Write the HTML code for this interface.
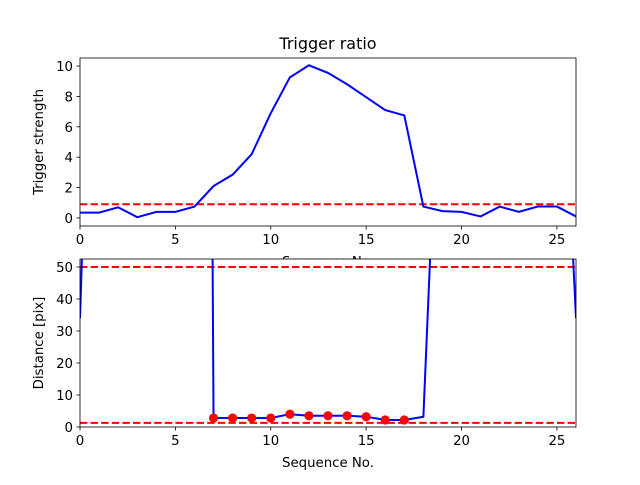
<!DOCTYPE html>
<html><head><meta charset="utf-8"><style>
body{margin:0;background:#fff;}
text{font-family:"DejaVu Sans","Liberation Sans",sans-serif;fill:#000;}
</style></head><body>
<svg id="c" width="640" height="480" xmlns="http://www.w3.org/2000/svg">
<defs>
<clipPath id="cp1"><rect x="80" y="58" width="496" height="168"/></clipPath>
<clipPath id="cp2"><rect x="80" y="259" width="496" height="168"/></clipPath>
</defs>
<rect width="640" height="480" fill="#fff"/>
<text x="328" y="49" font-size="16" text-anchor="middle">Trigger ratio</text>
<g id="top"></g>
<g id="bot"></g>
</svg>
<script>
const seq = [0,1,2,3,4,5,6,7,8,9,10,11,12,13,14,15,16,17,18,19,20,21,22,23,24,25,26];
const strength = [0.35,0.35,0.7,0.05,0.4,0.4,0.75,2.1,2.85,4.2,6.9,9.25,10.05,9.55,8.8,7.95,7.1,6.75,0.75,0.45,0.4,0.1,0.75,0.4,0.75,0.75,0.1];
const distance = [34,220,1000,1000,1000,1000,1000,2.8,2.8,2.8,2.8,4.0,3.5,3.5,3.5,3.2,2.2,2.2,3.2,144,1000,1000,1000,1000,1000,157,34];
const ratioThreshold = 0.9;
const distThresholds = [50,1.3];
const xTicks = [0,5,10,15,20,25];
const yTicksTop = [0,2,4,6,8,10];
const yTicksBot = [0,10,20,30,40,50];
const NS="http://www.w3.org/2000/svg";
const FS=13.3;
function mk(p,t,a){const e=document.createElementNS(NS,t);for(const k in a)e.setAttribute(k,a[k]);p.appendChild(e);return e;}
function panel(g,top,ymin,ymax,ys,yt,ylab){
  const L=80,R=576,B=top+168;
  const X=v=>L+(v-0)/26*(R-L);
  const Y=v=>B-(v-ymin)/(ymax-ymin)*168;
  return {X,Y,L,R,B,top,draw(){
    for(const t of xTicks){const l=mk(g,'line',{x1:X(t),x2:X(t),y1:B,y2:B+3.5,stroke:'#000','stroke-width':0.8});
      
      const tx=mk(g,'text',{x:X(t),y:B+18,'font-size':FS,'text-anchor':'middle'});tx.textContent=t;
      }
    for(const t of yt){const l=mk(g,'line',{x1:L-3.5,x2:L,y1:Y(t),y2:Y(t),stroke:'#000','stroke-width':0.8});
      
      const tx=mk(g,'text',{x:L-7,y:Y(t)+5,'font-size':FS,'text-anchor':'end'});tx.textContent=t;
      }
    const yl=mk(g,'text',{x:0,y:0,'font-size':FS,'text-anchor':'middle',transform:`translate(${ys},${(top+B)/2}) rotate(-90)`});yl.textContent=ylab;
    
    const xl=mk(g,'text',{x:(L+R)/2,y:B+40,'font-size':FS,'text-anchor':'middle'});xl.textContent='Sequence No.';
    
  },frame(){const r=mk(g,'rect',{x:L,y:top,width:R-L,height:168,fill:'none',stroke:'#000','stroke-width':0.8});
    }};
}
const gt=document.getElementById('top'), gb=document.getElementById('bot');
const pb=panel(gb,259,0,52.5,43,yTicksBot,'Distance [pix]');
pb.draw();
const pt=panel(gt,58,-0.53,10.53,43,yTicksTop,'Trigger strength');
pt.draw();
gb.parentNode.appendChild(gb);
const cover=mk(gb,'rect',{x:80,y:259,width:496,height:168,fill:'#fff'});

let h1=mk(gt,'line',{x1:80,x2:576,y1:pt.Y(ratioThreshold),y2:pt.Y(ratioThreshold),stroke:'#f00','stroke-width':2,'stroke-dasharray':'7.4,3.2','clip-path':'url(#cp1)'});

let p1=mk(gt,'polyline',{points:seq.map((s,i)=>pt.X(s)+','+pt.Y(strength[i])).join(' '),fill:'none',stroke:'#00f','stroke-width':2,'clip-path':'url(#cp1)'});

pt.frame();
for(const d of distThresholds){const h=mk(gb,'line',{x1:80,x2:576,y1:pb.Y(d),y2:pb.Y(d),stroke:'#f00','stroke-width':2,'stroke-dasharray':'7.4,3.2','clip-path':'url(#cp2)'});
  }
let p2=mk(gb,'polyline',{points:seq.map((s,i)=>pb.X(s)+','+pb.Y(distance[i])).join(' '),fill:'none',stroke:'#00f','stroke-width':2,'clip-path':'url(#cp2)'});

seq.forEach((s,i)=>{if(strength[i]>ratioThreshold){const c=mk(gb,'circle',{cx:pb.X(s),cy:pb.Y(distance[i]),r:4.6,fill:'#f00','clip-path':'url(#cp2)'});
  }});
pb.frame();
</script>
</body></html>
